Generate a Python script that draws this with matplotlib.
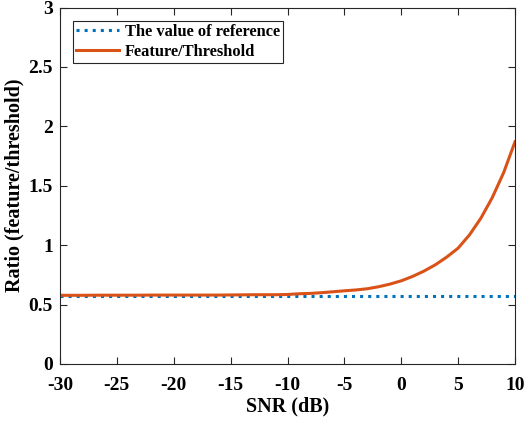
import numpy as np
import matplotlib
matplotlib.use("Agg")
import matplotlib.pyplot as plt

# SNR sweep and measured feature/threshold ratio
snr = list(range(-30, 11))
ratio = [0.578, 0.578, 0.578, 0.579, 0.579, 0.579, 0.579, 0.579, 0.580, 0.580,
         0.580, 0.580, 0.580, 0.580, 0.580, 0.581, 0.582, 0.583, 0.583, 0.583,
         0.585, 0.591, 0.594, 0.600, 0.608, 0.616, 0.623, 0.633, 0.650, 0.672,
         0.700, 0.737, 0.782, 0.835, 0.900, 0.975, 1.087, 1.227, 1.400, 1.610,
         1.870]
ref_value = 0.575

plt.rcParams['font.family'] = ['Liberation Serif']
plt.rcParams['font.weight'] = 'bold'
plt.rcParams['axes.unicode_minus'] = False

fig = plt.figure(figsize=(5.25, 4.22), dpi=100)
ax = fig.add_axes([60 / 525, 1 - 364 / 422, 455 / 525, 356.5 / 422])

ax.plot([snr[0], snr[-1]], [ref_value, ref_value], ':', color='#0072BD',
        lw=2.2, label='The value of reference')
ax.plot(snr, ratio, '-', color='#D95319', lw=2.2, label='Feature/Threshold')

ax.set_xlim(-30, 10)
ax.set_ylim(0, 3)
ax.set_xticks(np.arange(-30, 11, 5))
ax.set_yticks([0, 0.5, 1, 1.5, 2, 2.5, 3])
ax.set_yticklabels(['0', '0.5', '1', '1.5', '2', '2.5', '3'])
ax.tick_params(direction='in', length=5, width=0.8, colors='#262626',
               labelsize=14, top=True, right=True, pad=5)
ax.tick_params(axis='x', pad=9)
for lab in ax.get_xticklabels() + ax.get_yticklabels():
    lab.set_color('black')
    lab.set_fontweight('bold')
for s in ax.spines.values():
    s.set_color('#262626')
    s.set_linewidth(0.8)

ax.set_xlabel('SNR (dB)', fontsize=14.5, fontweight='bold', labelpad=2)
ax.set_ylabel('Ratio (feature/threshold)', fontsize=14.5, fontweight='bold', labelpad=3)

leg = ax.legend(loc='upper left', fontsize=11.8, fancybox=False, framealpha=1,
                edgecolor='#262626', handlelength=2.6, borderaxespad=0.8,
                handletextpad=0.35, borderpad=0.2, labelspacing=0.25)
leg.get_frame().set_linewidth(0.8)

fig.savefig('out.png', dpi=100)
